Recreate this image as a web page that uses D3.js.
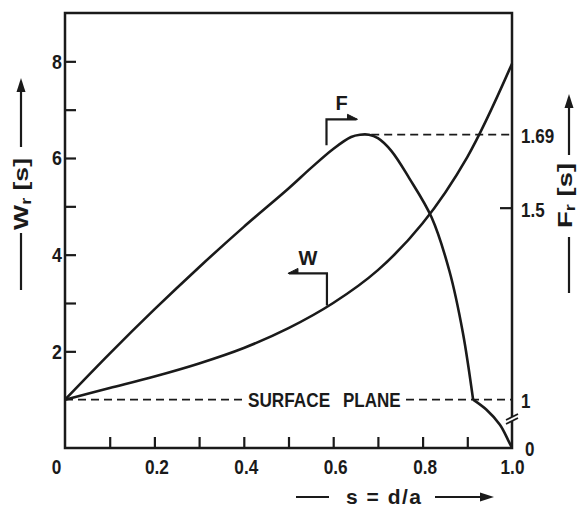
<!DOCTYPE html>
<html><head><meta charset="utf-8">
<script src="https://cdn.jsdelivr.net/npm/d3@7"></script>
<style>
html,body{margin:0;padding:0;background:#fff;}
svg{display:block;}
text{font-family:"Liberation Sans",Arial,Helvetica,sans-serif;font-weight:bold;fill:#1a1a1a;}
</style></head><body>
<svg id="c" width="578" height="511"></svg>
<script>
// ---- data ----
const sW = [0, 0.1, 0.2, 0.3, 0.4, 0.5, 0.6, 0.7, 0.8, 0.9, 1.0];
const wValues = [1.0, 1.24, 1.48, 1.75, 2.07, 2.48, 3.0, 3.68, 4.65, 6.02, 7.95];
const sF = [0, 0.1, 0.2, 0.3, 0.4, 0.5, 0.55, 0.6, 0.64, 0.66, 0.68, 0.7, 0.73, 0.77, 0.82, 0.86, 0.89, 0.913];
const fValues = [1.0, 1.12, 1.235, 1.345, 1.45, 1.55, 1.603, 1.653, 1.684, 1.69, 1.69, 1.681, 1.648, 1.577, 1.475, 1.335, 1.175, 1.0];
const sFBreak = [0.913, 0.943, 0.973, 0.991, 1.0];
const fBreakValues = [1.0, 0.79, 0.48, 0.17, 0];
const wTicks = [2, 3, 4, 5, 6, 7, 8];
const wLabeled = [2, 4, 6, 8];
const sTicks = [0.1, 0.2, 0.3, 0.4, 0.5, 0.6, 0.7, 0.8, 0.9];
const sLabelValues = [0, 0.2, 0.4, 0.6, 0.8, 1.0];
const sLabels = ["0", "0.2", "0.4", "0.6", "0.8", "1.0"];
const fLabelValues = [0, 1, 1.5, 1.69];
const fLabels = ["0", "1", "1.5", "1.69"];
const fTicks = [1.5];
const surfaceW = 1;
const peakF = 1.69;
const annotF = {s: 0.585, f: 1.665};
const annotW = {s: 0.586, w: 2.95};

// ---- layout ----
const svg = d3.select("#c");
const ink = "#1a1a1a";
const x = d3.scaleLinear().domain([0, 1]).range([65, 512]);
const yW = d3.scaleLinear().domain([0, 9]).range([448, 13]);
const yF = d3.scaleLinear().domain([0, 1, 1.5]).range([448, yW(1), yW(1) - 192]);

function condense(sel, k){
  sel.each(function(){
    const t = d3.select(this);
    const xv = +(t.attr("x") || 0);
    t.attr("x", xv / k).attr("transform", `scale(${k},1)`);
  });
}

// frame
svg.append("rect").attr("x", x(0)).attr("y", yW(9))
  .attr("width", x(1) - x(0)).attr("height", yW(0) - yW(9))
  .attr("fill", "none").attr("stroke", ink).attr("stroke-width", 2.5);

function clean(g){
  g.select(".domain").remove();
  g.attr("font-family", null).attr("font-size", null);
  g.selectAll("line").attr("stroke", ink).attr("stroke-width", 2.2);
  g.selectAll("text").attr("fill", ink);
}

// left axis
const la = svg.append("g").attr("transform", `translate(${x(0)},0)`)
  .call(d3.axisLeft(yW).tickValues(wTicks).tickSize(-11).tickPadding(3)
    .tickFormat(d => wLabeled.includes(d) ? String(d) : ""))
  .call(clean);
la.selectAll("text").style("font-size", "21px").call(condense, 0.85);

// bottom ticks
svg.append("g").attr("transform", `translate(0,${yW(0)})`)
  .call(d3.axisBottom(x).tickValues(sTicks).tickSize(-11).tickFormat(""))
  .call(clean);
// bottom labels
const bl = svg.append("g").attr("transform", `translate(0,${yW(0)})`)
  .call(d3.axisBottom(x).tickValues(sLabelValues).tickSize(0).tickPadding(11)
    .tickFormat((d, i) => sLabels[i]))
  .call(clean);
bl.selectAll("line").remove();
bl.selectAll("text").style("font-size", "21px").attr("x", d => d === 0 ? -9 : (d === 1 ? 0 : 2)).call(condense, 0.82);

// right axis tick + labels
svg.append("g").attr("transform", `translate(${x(1)},0)`)
  .call(d3.axisLeft(yF).tickValues(fTicks).tickSize(12).tickFormat(""))
  .call(clean);
const rl = svg.append("g").attr("transform", `translate(${x(1)},0)`)
  .call(d3.axisRight(yF).tickValues(fLabelValues).tickSize(0).tickPadding(9)
    .tickFormat((d, i) => fLabels[i]))
  .call(clean);
rl.selectAll("line").remove();
rl.selectAll("text").style("font-size", "21px")
  .attr("x", d => d === 0 ? 13 : 9)
  .attr("dy", d => d === 0 ? "0.38em" : (d === 1.5 ? "0.42em" : "0.35em"))
  .call(condense, 0.81);

// dashed reference lines
const dash = "8,5";
svg.append("line").attr("x1", x(0)).attr("x2", 243).attr("y1", yW(surfaceW)).attr("y2", yW(surfaceW))
  .attr("stroke", ink).attr("stroke-width", 1.8).attr("stroke-dasharray", dash);
svg.append("line").attr("x1", 406).attr("x2", x(1)).attr("y1", yW(surfaceW)).attr("y2", yW(surfaceW))
  .attr("stroke", ink).attr("stroke-width", 1.8).attr("stroke-dasharray", dash);
svg.append("line").attr("x1", x(0.685)).attr("x2", x(1)).attr("y1", yF(peakF)).attr("y2", yF(peakF))
  .attr("stroke", ink).attr("stroke-width", 1.8).attr("stroke-dasharray", dash);

svg.append("text").attr("x", 248).attr("y", yW(surfaceW)).attr("dy", "0.36em").style("font-size", "20px")
  .text("SURFACE").call(condense, 0.86);
svg.append("text").attr("x", 343).attr("y", yW(surfaceW)).attr("dy", "0.36em").style("font-size", "20px")
  .text("PLANE").call(condense, 0.85);

// curves
const lineW = d3.line().x(d => x(d[0])).y(d => yW(d[1])).curve(d3.curveCatmullRom.alpha(0.5));
const lineF = d3.line().x(d => x(d[0])).y(d => yF(d[1])).curve(d3.curveCatmullRom.alpha(0.5));
svg.append("path").attr("d", lineW(sW.map((s, i) => [s, wValues[i]])))
  .attr("fill", "none").attr("stroke", ink).attr("stroke-width", 2.6);
svg.append("path").attr("d", lineF(sF.map((s, i) => [s, fValues[i]])))
  .attr("fill", "none").attr("stroke", ink).attr("stroke-width", 2.6);
svg.append("path").attr("d", lineF(sFBreak.map((s, i) => [s, fBreakValues[i]])))
  .attr("fill", "none").attr("stroke", ink).attr("stroke-width", 2.6);

// break symbol on right axis
const bx = x(1), by = 419;
svg.append("polygon").attr("points", `${bx-6},${by+1} ${bx+6},${by-5} ${bx+6},${by-1} ${bx-6},${by+5}`).attr("fill", "#fff");
svg.append("line").attr("x1", bx-6).attr("y1", by+1).attr("x2", bx+6).attr("y2", by-5).attr("stroke", ink).attr("stroke-width", 1.8);
svg.append("line").attr("x1", bx-6).attr("y1", by+5).attr("x2", bx+6).attr("y2", by-1).attr("stroke", ink).attr("stroke-width", 1.8);

// annotations
const fx = x(annotF.s), fy = yF(annotF.f);
svg.append("path").attr("d", `M${fx},${fy+1}V${fy-25}H${fx+30}`).attr("fill", "none").attr("stroke", ink).attr("stroke-width", 2.2);
svg.append("path").attr("d", `M${fx+31},${fy-25}L${fx+21},${fy-30}L${fx+21},${fy-25}Z`).attr("fill", ink).attr("stroke", ink).attr("stroke-width", 1);
svg.append("text").attr("x", fx + 15).attr("y", fy - 34).attr("text-anchor", "middle").style("font-size", "20px").text("F");

const wx = x(annotW.s), wy = yW(annotW.w);
svg.append("path").attr("d", `M${wx},${wy}V${wy-32}H${wx-38}`).attr("fill", "none").attr("stroke", ink).attr("stroke-width", 2.2);
svg.append("path").attr("d", `M${wx-39},${wy-32}L${wx-29},${wy-37}L${wx-29},${wy-32}Z`).attr("fill", ink).attr("stroke", ink).attr("stroke-width", 1);
svg.append("text").attr("x", wx - 19).attr("y", wy - 40).attr("text-anchor", "middle").style("font-size", "20px").text("W");

// arrow helper (horizontal, in local coords)
function arrow(g, x1, x2, y){
  g.append("line").attr("x1", x1).attr("x2", x2 - 10).attr("y1", y).attr("y2", y).attr("stroke", ink).attr("stroke-width", 2.2);
  g.append("path").attr("d", `M${x2},${y}L${x2-14},${y-4.5}L${x2-14},${y+4.5}Z`).attr("fill", ink);
}
function axisTitle(g, lineStart, lineEnd, textStart, textEnd, base, arrowStart, arrowEnd, main, sub){
  g.append("line").attr("x1", lineStart).attr("x2", lineEnd).attr("y1", 0).attr("y2", 0).attr("stroke", ink).attr("stroke-width", 2.2);
  const t = g.append("text").attr("x", textStart).attr("y", base).style("font-size", "21px")
    .attr("textLength", textEnd - textStart).attr("lengthAdjust", "spacingAndGlyphs");
  t.append("tspan").text(main);
  t.append("tspan").attr("dy", 3).style("font-size", "14px").text(sub);
  t.append("tspan").attr("dy", -3).text(" [s]");
  arrow(g, arrowStart, arrowEnd, 0);
}
// left title (rotated)
const lt = svg.append("g").attr("transform", "translate(21,0) rotate(-90)");
axisTitle(lt, -290, -233, -230, -158, 7, -147, -78, "W", "r");
// right title
const rt = svg.append("g").attr("transform", "translate(569,0) rotate(-90)");
axisTitle(rt, -293, -237, -228, -163, 3, -155, -94, "F", "r");

// bottom title
const bt = svg.append("g").attr("transform", "translate(0,497)");
bt.append("line").attr("x1", 296).attr("x2", 329).attr("y1", 0).attr("y2", 0).attr("stroke", ink).attr("stroke-width", 2.2);
bt.append("text").attr("x", 346).attr("y", 7).style("font-size", "21px")
  .attr("textLength", 75).attr("lengthAdjust", "spacing").text("s = d/a");
arrow(bt, 435, 494, 0);
</script></body></html>
